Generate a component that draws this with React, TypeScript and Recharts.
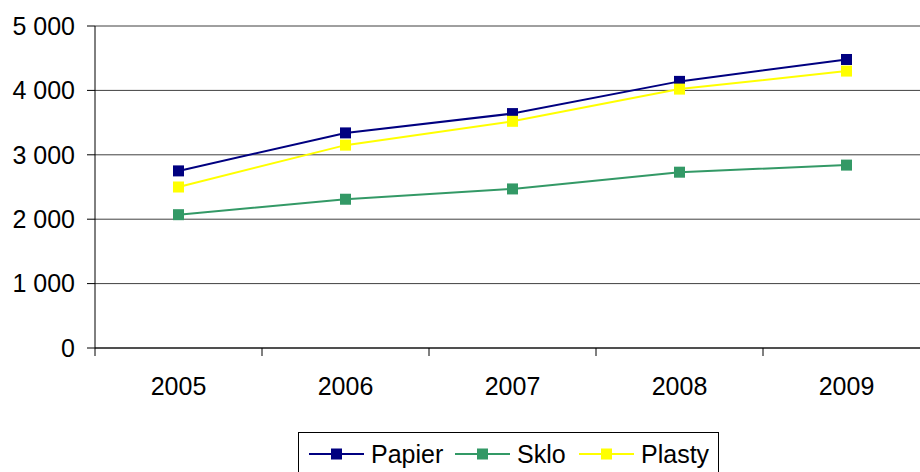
import { LineChart, Line, XAxis, YAxis, CartesianGrid } from "recharts";

const years = ["2005", "2006", "2007", "2008", "2009"];
const papier = [2750, 3340, 3640, 4140, 4480];
const sklo = [2070, 2310, 2470, 2730, 2840];
const plasty = [2500, 3150, 3520, 4020, 4300];
const yTicks = [0, 1000, 2000, 3000, 4000, 5000];

const series = [
  { key: "papier", name: "Papier", color: "#000080" },
  { key: "sklo", name: "Sklo", color: "#339966" },
  { key: "plasty", name: "Plasty", color: "#FFFF00" },
];

const data = years.map((year, i) => ({
  year,
  papier: papier[i],
  sklo: sklo[i],
  plasty: plasty[i],
}));

const FONT = "'Liberation Sans', Arial, sans-serif";

// thousands with a space, like "5 000"
const fmt = (v: number) => String(v).replace(/\B(?=(\d{3})+(?!\d))/g, " ");

const SquareDot = (color: string) => (props: any) => {
  const { cx, cy, index } = props;
  if (cx == null || cy == null) return <g key={index} />;
  return <rect key={index} x={cx - 5.5} y={cy - 5.5} width={11} height={11} fill={color} />;
};

// category label plus the tick marks between categories (Excel style)
const CategoryTick = (props: any) => {
  const { x, y, payload, index, visibleTicksCount, width } = props;
  const count = visibleTicksCount || years.length;
  const half = width ? width / count / 2 : 83.5;
  return (
    <g>
      <line x1={x - half} y1={y} x2={x - half} y2={y + 8} stroke="#000" />
      {index === count - 1 && (
        <line x1={x + half} y1={y} x2={x + half} y2={y + 8} stroke="#000" />
      )}
      <text
        x={x}
        y={y + 29}
        dy="0.71em"
        textAnchor="middle"
        fill="#000"
        fontSize={25}
        fontFamily={FONT}
      >
        {payload.value}
      </text>
    </g>
  );
};

const legendLeft = [10, 156, 280];

const LegendBox = () => (
  <div
    style={{
      position: "absolute",
      left: 298,
      top: 432,
      width: 421,
      height: 50,
      border: "1px solid #000",
      boxSizing: "border-box",
      fontFamily: FONT,
      fontSize: 25,
      lineHeight: "28px",
      background: "#fff",
    }}
  >
    {series.map((s, i) => (
      <div
        key={s.key}
        style={{ position: "absolute", left: legendLeft[i], top: 7, display: "flex", alignItems: "center" }}
      >
        <svg width={55} height={28} style={{ marginRight: 7 }}>
          <line x1={0} y1={14} x2={55} y2={14} stroke={s.color} strokeWidth={2} />
          <rect x={22} y={8.5} width={11} height={11} fill={s.color} />
        </svg>
        <span>{s.name}</span>
      </div>
    ))}
  </div>
);

export default function App() {
  return (
    <div
      style={{
        position: "fixed",
        left: 0,
        top: 0,
        width: 920,
        height: 472,
        overflow: "hidden",
        background: "#fff",
      }}
    >
      <LineChart
        width={920}
        height={472}
        data={data}
        margin={{ top: 26, right: -10, left: 0, bottom: 0 }}
      >
        <CartesianGrid vertical={false} stroke="#404040" strokeWidth={1} />
        <XAxis
          dataKey="year"
          scale="band"
          height={124}
          axisLine={{ stroke: "#000" }}
          tickLine={false}
          tickSize={0}
          tickMargin={0}
          interval={0}
          tick={<CategoryTick />}
        />
        <YAxis
          width={95}
          domain={[0, 5000]}
          ticks={yTicks}
          tickFormatter={fmt}
          axisLine={{ stroke: "#000" }}
          tickLine={{ stroke: "#000" }}
          tickSize={8}
          tickMargin={12}
          tick={{ fill: "#000", fontSize: 25, fontFamily: FONT }}
        />
        {series.map((s) => (
          <Line
            key={s.key}
            dataKey={s.key}
            name={s.name}
            stroke={s.color}
            strokeWidth={2}
            dot={SquareDot(s.color)}
            activeDot={false}
            isAnimationActive={false}
          />
        ))}
      </LineChart>
      <LegendBox />
    </div>
  );
}
